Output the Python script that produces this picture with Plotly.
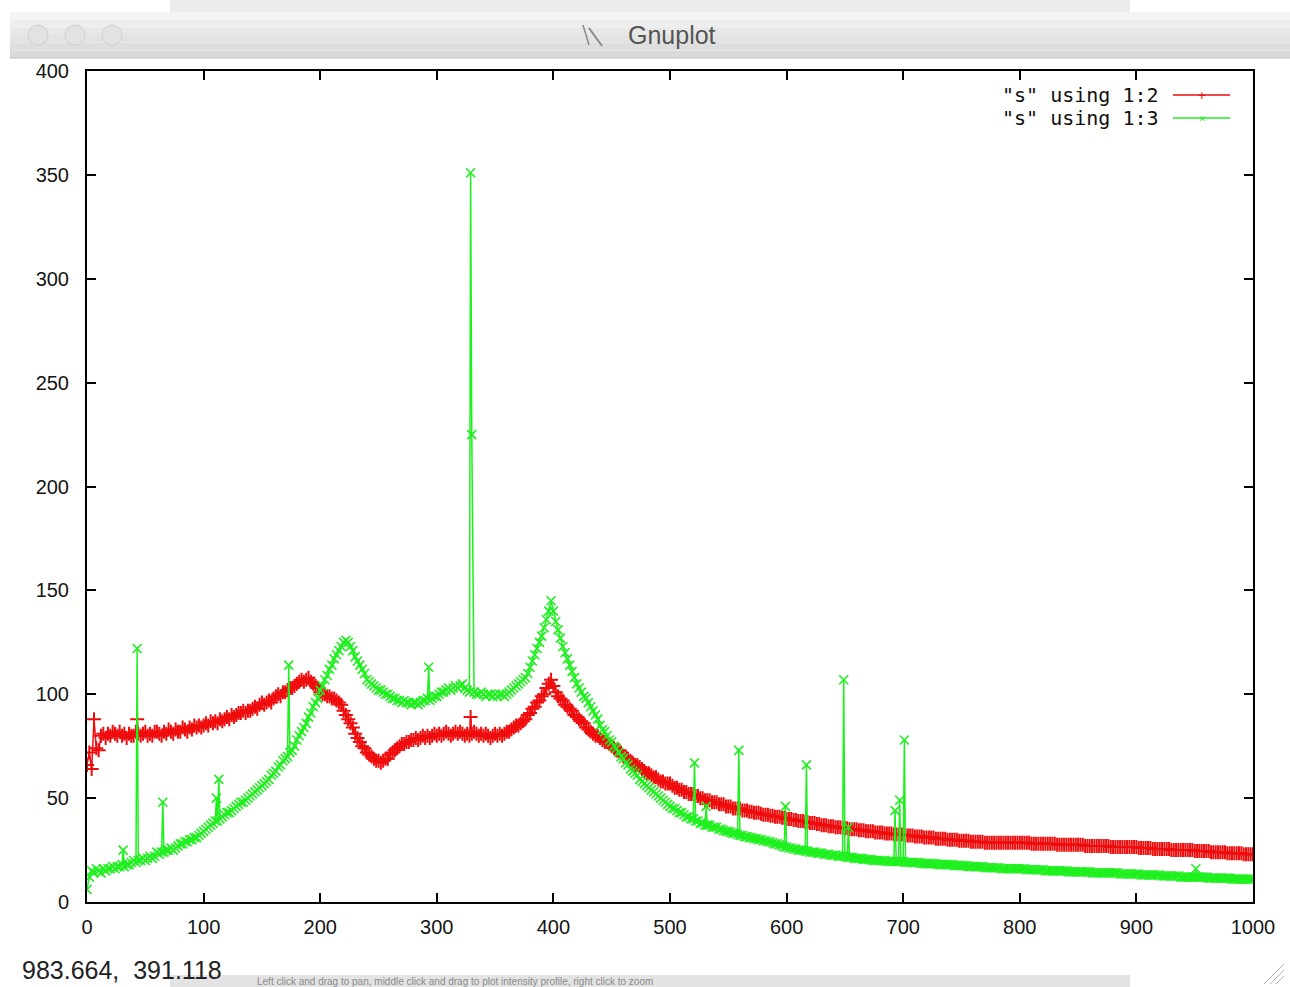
import plotly.graph_objects as go

W, H = 1290, 987

# ---------------------------------------------------------------- data
# profile sampled every 2 units from 0 to 1000 (one row = 20 units)
x_grid = list(range(0, 1001, 2))

col2_grid = [
    66, 72, 64, 88, 74, 73, 80, 81, 79, 81,                      # 0
    80, 82, 81, 80, 82, 80, 81, 79, 81, 80,                      # 20
    80, 82, 81, 80, 81, 82, 80, 81, 80, 82,                      # 40
    82, 81, 80, 82, 81, 83, 82, 81, 83, 82,                      # 60
    82, 84, 83, 82, 84, 83, 85, 84, 85, 84,                      # 80
    85, 86, 85, 87, 86, 87, 86, 88, 87, 88,                      # 100
    89, 88, 90, 89, 90, 91, 91, 92, 91, 92,                      # 120
    92, 93, 94, 93, 95, 96, 95, 96, 97, 96,                      # 140
    98, 99, 100, 99, 101, 101, 102, 103, 103, 104,               # 160
    105, 106, 107, 106, 107, 108, 106, 105, 104, 103,            # 180
    101, 100, 100, 99, 99, 98, 98, 97, 96, 95,                   # 200
    92, 90, 88, 86, 84, 81, 79, 77, 75, 74,                      # 220
    72, 71, 70, 69, 68, 68, 67, 68, 69, 69,                      # 240
    71, 72, 73, 74, 75, 76, 76, 77, 77, 78,                      # 260
    78, 79, 78, 79, 80, 79, 80, 79, 80, 81,                      # 280
    80, 81, 80, 81, 82, 81, 80, 81, 82, 81,                      # 300
    82, 81, 80, 81, 80, 81, 82, 81, 80, 81,                      # 320
    80, 81, 80, 79, 80, 81, 80, 81, 80, 81,                      # 340
    82, 82, 83, 84, 85, 85, 86, 87, 88, 90,                      # 360
    91, 93, 94, 96, 97, 99, 100, 103, 105, 107,                  # 380
    104, 101, 99, 98, 97, 95, 94, 93, 92, 90,                    # 400
    89, 88, 87, 86, 84, 83, 82, 81, 80, 80,                      # 420
    79, 78, 77, 77, 76, 75, 74, 73, 73, 72,                      # 440
    70, 70, 69, 68, 67, 66, 66, 65, 64, 63,                      # 460
    62, 62, 61, 60, 60, 59, 58, 58, 57, 57,                      # 480
    57, 56, 55, 55, 54, 54, 53, 53, 52, 52,                      # 500
    52, 51, 51, 50, 50, 49, 49, 49, 48, 48,                      # 520
    48, 47, 47, 47, 46, 46, 46, 45, 45, 45,                      # 540
    45, 44, 44, 44, 43.5, 43.5, 43, 43, 43, 42.5,                # 560
    42, 42, 42, 41.5, 41.5, 41, 41, 41, 40.5, 40.5,              # 580
    40, 40, 40, 39.5, 39.5, 39, 39, 39, 38.5, 38.5,              # 600
    38, 38, 38, 37.5, 37.5, 37, 37, 37, 36.5, 36.5,              # 620
    36.5, 36, 36, 36, 35.5, 35.5, 35.5, 35, 35, 35,              # 640
    35, 34.5, 34.5, 34.5, 34, 34, 34, 34, 33.5, 33.5,            # 660
    33.5, 33.5, 33, 33, 33, 33, 32.5, 32.5, 32.5, 32.5,          # 680
    32.5, 32, 32, 32, 32, 31.5, 31.5, 31.5, 31.5, 31,            # 700
    31, 31, 31, 31, 30.5, 30.5, 30.5, 30.5, 30.5, 30,            # 720
    30, 30, 30, 30, 29.5, 29.5, 29.5, 29.5, 29.5, 29,            # 740
    29, 29, 29, 29, 29, 28.5, 28.5, 28.5, 28.5, 28.5,            # 760
    28.5, 28.5, 28.5, 28.5, 28.5, 28.5, 28.5, 28.5, 28.5, 28.5,  # 780
    28.5, 28.5, 28.5, 28.5, 28.5, 28, 28, 28, 28, 28,            # 800
    28, 28, 28, 28, 28, 28, 27.5, 27.5, 27.5, 27.5,              # 820
    27.5, 27.5, 27.5, 27.5, 27.5, 27.5, 27.5, 27.5, 27, 27,      # 840
    27, 27, 27, 27, 27, 27, 27, 27, 27, 26.5,                    # 860
    26.5, 26.5, 26.5, 26.5, 26.5, 26.5, 26.5, 26.5, 26.5, 26.5,  # 880
    26.5, 26, 26, 26, 26, 26, 26, 25.5, 25.5, 25.5,              # 900
    25.5, 25.5, 25.5, 25.5, 25.5, 25, 25, 25, 25, 25,            # 920
    25, 25, 25, 25, 25, 24.5, 24.5, 24.5, 24.5, 24.5,            # 940
    24.5, 24.5, 24, 24, 24, 24, 24, 24, 24, 23.5,                # 960
    23.5, 23.5, 23.5, 23.5, 23.5, 23.5, 23, 23, 23, 23,          # 980
    23,                                                          # 1000
]

col3_grid = [
    6, 12, 15, 14, 16, 15, 14, 16, 15, 16,                       # 0
    16, 17, 16, 17, 17, 18, 17, 18, 18, 19,                      # 20
    20, 19, 20, 20, 21, 20, 21, 22, 21, 22,                      # 40
    24, 23, 24, 24, 25, 25, 26, 25, 26, 27,                      # 60
    28, 28, 29, 29, 30, 30, 31, 31, 32, 33,                      # 80
    34, 35, 36, 37, 38, 39, 39, 40, 41, 42,                      # 100
    43, 43, 44, 45, 46, 47, 48, 48, 49, 50,                      # 120
    51, 52, 53, 54, 55, 56, 57, 58, 59, 61,                      # 140
    62, 63, 65, 66, 68, 69, 70, 72, 73, 75,                      # 160
    78, 80, 82, 84, 86, 89, 91, 94, 96, 98,                      # 180
    102, 104, 107, 109, 112, 114, 117, 119, 121, 123,            # 200
    125, 126, 125, 123, 121, 118, 116, 114, 112, 110,            # 220
    107, 106, 105, 104, 103, 102, 102, 101, 100, 100,            # 240
    99, 98, 98, 97, 97, 96, 97, 96, 96, 95,                      # 260
    96, 96, 95, 96, 97, 97, 98, 97, 98, 99,                      # 280
    99, 100, 101, 101, 102, 103, 102, 103, 104, 103,             # 300
    104, 105, 103, 102, 101, 100, 101, 100, 100, 101,            # 320
    100, 99, 100, 100, 99, 100, 99, 100, 100, 99,                # 340
    100, 101, 102, 103, 104, 105, 106, 107, 108, 110,            # 360
    113, 116, 119, 122, 125, 128, 132, 136, 140, 145,            # 380
    140, 135, 131, 127, 123, 120, 117, 114, 111, 108,            # 400
    105, 103, 101, 99, 98, 96, 94, 92, 90, 88,                   # 420
    85, 83, 82, 80, 78, 77, 75, 74, 72, 70,                      # 440
    69, 67, 66, 64, 63, 62, 61, 59, 58, 57,                      # 460
    56, 55, 54, 53, 52, 51, 50, 49, 48, 47,                      # 480
    46, 45, 45, 44, 43, 43, 42, 41, 41, 40,                      # 500
    40, 39, 39, 38, 38, 37, 37, 37, 36, 36,                      # 520
    36, 35, 35, 34.5, 34, 34, 33.5, 33, 33, 32.5,                # 540
    32, 32, 31.5, 31.5, 31, 31, 30.5, 30.5, 30, 30,              # 560
    29.5, 29.5, 29, 29, 28.5, 28, 28, 27.5, 27, 26.5,            # 580
    26.5, 26, 26, 25.5, 25.5, 25, 25, 25, 24.5, 24.5,            # 600
    24, 24, 24, 23.5, 23.5, 23.5, 23, 23, 23, 22.5,              # 620
    22.5, 22.5, 22, 22, 22, 22, 21.5, 21.5, 21.5, 21,            # 640
    21, 21, 21, 20.5, 20.5, 20.5, 20.5, 20, 20, 20,              # 660
    20, 20, 20, 19.5, 19.5, 19.5, 19.5, 19.5, 19.5, 19.5,        # 680
    19.5, 19, 19, 19, 19, 19, 19, 19, 18.5, 18.5,                # 700
    18.5, 18.5, 18.5, 18.5, 18.5, 18, 18, 18, 18, 18,            # 720
    18, 18, 17.5, 17.5, 17.5, 17.5, 17.5, 17.5, 17, 17,          # 740
    17, 17, 17, 17, 17, 16.5, 16.5, 16.5, 16.5, 16.5,            # 760
    16.5, 16.5, 16, 16, 16, 16, 16, 16, 16, 16,                  # 780
    16, 16, 16, 15.5, 15.5, 15.5, 15.5, 15.5, 15.5, 15.5,        # 800
    15.5, 15, 15, 15, 15, 15, 15, 15, 15, 15,                    # 820
    15, 14.5, 14.5, 14.5, 14.5, 14.5, 14.5, 14.5, 14.5, 14.5,    # 840
    14.5, 14, 14, 14, 14, 14, 14, 14, 14, 14,                    # 860
    14, 14, 14, 13.5, 13.5, 13.5, 13.5, 13.5, 13.5, 13.5,        # 880
    13.5, 13.5, 13, 13, 13, 13, 13, 13, 13, 13,                  # 900
    13, 12.5, 12.5, 12.5, 12.5, 12.5, 12.5, 12.5, 12.5, 12,      # 920
    12, 12, 12, 12, 12, 12, 12, 12, 12, 12,                      # 940
    12, 11.5, 11.5, 11.5, 11.5, 11.5, 11.5, 11.5, 11.5, 11.5,    # 960
    11.5, 11, 11, 11, 11, 11, 11, 11, 11, 11,                    # 980
    11,                                                          # 1000
]

# isolated outlier readings between (or replacing) grid samples
col2_extra_x = [43, 329]
col2_extra_y = [88, 89]

col3_extra_x = [31, 43, 65, 111, 113, 173, 293, 329, 330,
                521, 531, 559, 599, 617, 649, 653, 693, 697, 701, 951]
col3_extra_y = [25, 122, 48, 50, 59, 114, 113, 351, 225,
                67, 46, 73, 46, 66, 107, 36, 44, 49, 78, 16]

series_names = ['"s" using 1:2', '"s" using 1:3']
x_ticks = list(range(0, 1001, 100))
y_ticks = list(range(0, 401, 50))

RED = "#f00c0c"
GREEN = "#1ef01e"


def merge(gx, gy, ex, ey):
    pts = dict(zip(gx, gy))
    pts.update(zip(ex, ey))
    xs = sorted(pts)
    return xs, [pts[k] for k in xs]


x2, y2 = merge(x_grid, col2_grid, col2_extra_x, col2_extra_y)
x3, y3 = merge(x_grid, col3_grid, col3_extra_x, col3_extra_y)

fig = go.Figure()
fig.add_trace(go.Scatter(
    x=x2, y=y2, name=series_names[0], mode="lines+markers",
    line=dict(color=RED, width=1.5),
    marker=dict(symbol="cross-thin", size=10, color=RED,
                line=dict(color=RED, width=2)),
))
fig.add_trace(go.Scatter(
    x=x3, y=y3, name=series_names[1], mode="lines+markers",
    line=dict(color=GREEN, width=1.5),
    marker=dict(symbol="x-thin", size=9, color=GREEN,
                line=dict(color=GREEN, width=1.6)),
))


def px(v):
    return v / W


def py(v):
    return 1 - v / H


shapes = []


def rect(x0, y0, x1, y1, fill, line=None, layer="below"):
    shapes.append(dict(type="rect", xref="paper", yref="paper",
                       x0=px(x0), x1=px(x1), y0=py(y1), y1=py(y0),
                       fillcolor=fill, layer=layer,
                       line=dict(width=1 if line else 0, color=line or fill)))


def seg(x0, y0, x1, y1, color, width=1.5, layer="above"):
    shapes.append(dict(type="line", xref="paper", yref="paper",
                       x0=px(x0), x1=px(x1), y0=py(y0), y1=py(y1),
                       layer=layer, line=dict(color=color, width=width)))


# window behind (top strip) and title bar of the plot window
rect(170, 0, 1130, 12, "#ececec")
bands = ["#f4f4f4", "#eeeeee", "#e8e8e8", "#e3e3e3", "#dedede", "#d9d9d9"]
for i, c in enumerate(bands):
    rect(10, 12 + i * 7.7, 1290, 12 + (i + 1) * 7.7, c)
seg(10, 58, 1290, 58, "#c4c4c4", 1, "below")
for cx in (38, 75, 112):
    shapes.append(dict(type="circle", xref="paper", yref="paper",
                       x0=px(cx - 10), x1=px(cx + 10), y0=py(45), y1=py(25),
                       fillcolor="#e2e2e2", line=dict(color="#cfcfcf", width=1),
                       layer="below"))
# window icon
seg(583, 25, 589, 45, "#8a8a8a", 1.5, "below")
seg(589, 28, 602, 46, "#8a8a8a", 2, "below")

# bottom strip of the window below
rect(170, 975, 1130, 987, "#e3e3e3")
# resize grip
for d in (8, 14, 20):
    seg(1284 - d, 984, 1284, 984 - d, "#b5b5b5", 1)

# legend samples (gnuplot style: text left, sample right)
seg(1173, 95, 1230, 95, RED, 1.5)
seg(1173, 118, 1230, 118, GREEN, 1.5)

annotations = [
    dict(text="Gnuplot", x=px(672), y=py(35), xref="paper", yref="paper",
         showarrow=False, xanchor="center", yanchor="middle",
         font=dict(family="Liberation Sans", size=25, color="#555555")),
    dict(text="983.664,\u00a0\u00a0391.118", x=px(20), y=py(970),
         xref="paper", yref="paper", showarrow=False,
         xanchor="left", yanchor="middle",
         font=dict(family="Liberation Sans", size=25, color="#222222")),
    dict(text="Left click and drag to pan, middle click and drag to plot intensity profile, right click to zoom",
         x=px(255), y=py(981), xref="paper", yref="paper", showarrow=False,
         xanchor="left", yanchor="middle",
         font=dict(family="Liberation Sans", size=10, color="#8a8a8a")),
    dict(text=series_names[0], x=px(1161), y=py(95), xref="paper", yref="paper",
         showarrow=False, xanchor="right", yanchor="middle",
         font=dict(family="DejaVu Sans Mono", size=20, color="#111111")),
    dict(text=series_names[1], x=px(1161), y=py(118), xref="paper", yref="paper",
         showarrow=False, xanchor="right", yanchor="middle",
         font=dict(family="DejaVu Sans Mono", size=20, color="#111111")),
    dict(text="+", x=px(1202), y=py(95), xref="paper", yref="paper",
         showarrow=False, xanchor="center", yanchor="middle",
         font=dict(family="DejaVu Sans Mono", size=13, color=RED)),
    dict(text="×", x=px(1202), y=py(118), xref="paper", yref="paper",
         showarrow=False, xanchor="center", yanchor="middle",
         font=dict(family="DejaVu Sans Mono", size=11, color=GREEN)),
]

axis_common = dict(
    showline=True, linecolor="black", linewidth=2, mirror="allticks",
    ticks="inside", ticklen=9, tickwidth=1.5, tickcolor="black",
    showgrid=False, zeroline=False, automargin=False,
    tickfont=dict(family="Liberation Sans", size=20, color="#151515"),
)

fig.update_layout(
    width=W, height=H,
    margin=dict(l=0, r=0, t=0, b=0, pad=0, autoexpand=False),
    paper_bgcolor="white", plot_bgcolor="white",
    showlegend=False,
    shapes=shapes, annotations=annotations,
    xaxis=dict(domain=[px(87), px(1253)], range=[0, 1000],
               tickvals=x_ticks, ticklabelstandoff=6, **axis_common),
    yaxis=dict(domain=[py(902), py(71)], range=[0, 400],
               tickvals=y_ticks, ticklabelstandoff=12, **axis_common),
)

# the figure fills the whole page, so drop the default body margin
fig.write_html(
    "out.html",
    post_script="document.body.style.margin='0';"
                "document.body.style.overflow='hidden';",
)
